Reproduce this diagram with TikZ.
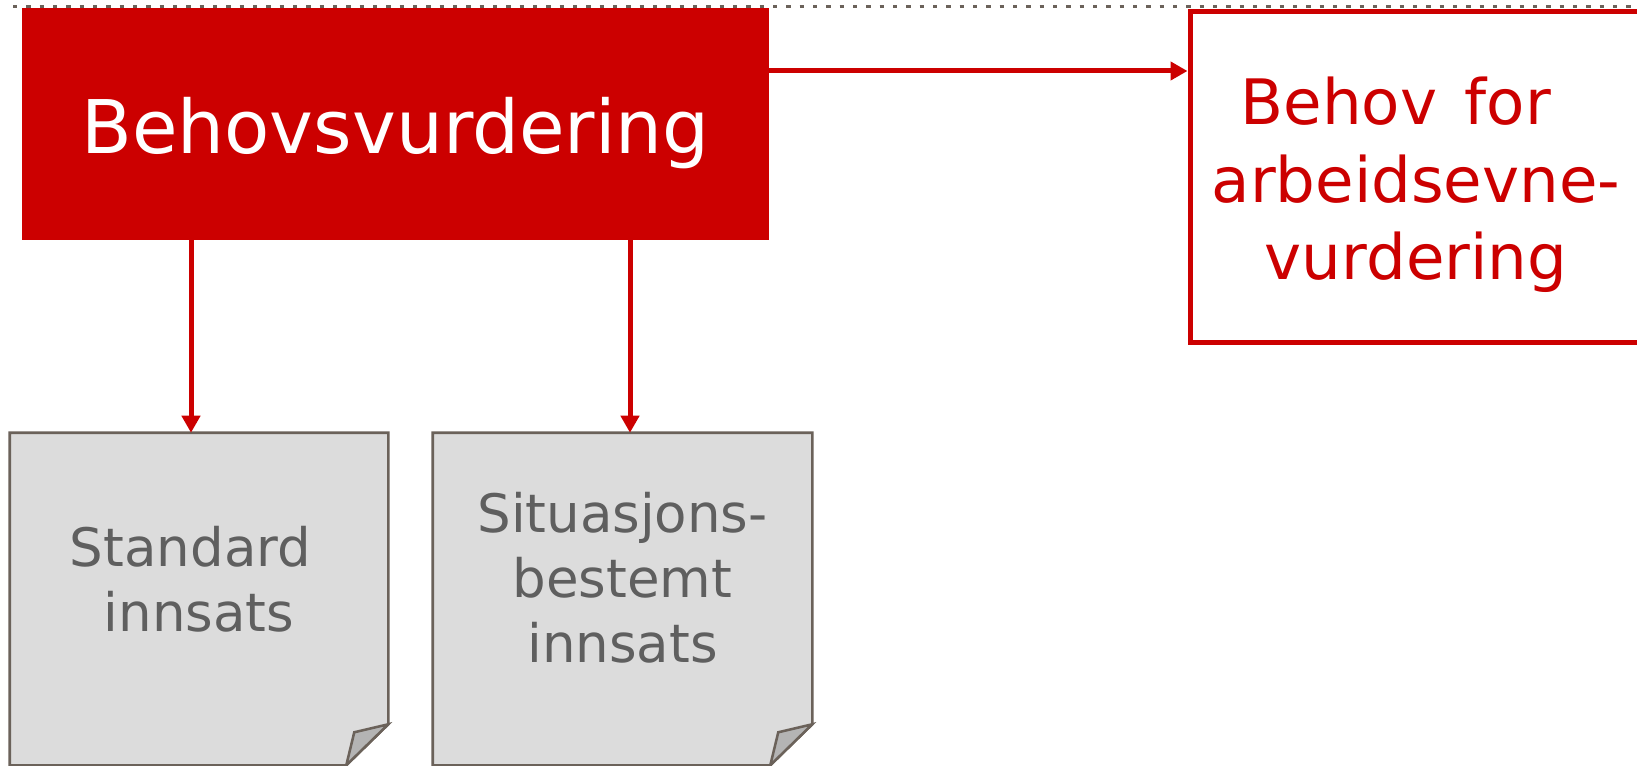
\documentclass[tikz,border=0pt]{standalone}
\usepackage{fontspec}
\setmainfont{DejaVu Sans}
\usetikzlibrary{arrows.meta,calc}
\definecolor{nred}{HTML}{CC0000}
\definecolor{gline}{HTML}{6B625A}
\definecolor{gfill}{HTML}{DCDCDC}
\definecolor{gflap}{HTML}{B4B4B4}
\definecolor{gtext}{HTML}{5F5F5F}
\def\pu{0.75pt}
\begin{document}
\begin{tikzpicture}[x=0.75pt,y=-0.75pt,
  redbox/.style={fill=nred, draw=none, inner sep=0pt},
  outbox/.style={draw=nred, line width=3.75pt, fill=white, inner sep=0pt},
  ghost/.style={draw=none, inner sep=0pt},
  greyline/.style={draw=gline, line width=1.9pt, line join=miter},
  arr/.style={draw=nred, line width=3.75pt, -{Triangle[length=12.75pt,width=13.5pt]}},
  dotline/.style={draw=gline, line width=2.25pt, dash pattern=on 3.2pt off 6.8pt},
  txt/.style={inner sep=0pt, align=center}
]
\useasboundingbox (0,0) rectangle (1637,766);
\clip (0,0) rectangle (1637,766);
\fill[white] (0,0) rectangle (1637,766);

\draw[dotline] (13,6.5) -- (1637,6.5);

\node[redbox, minimum width=747*\pu, minimum height=231.5*\pu] (bv) at (395.5,124.25) {};
\node[txt, text=white, font=\fontsize{55.5}{66}\selectfont] (bvt) at (395.5,133) {Behovsvurdering};

\node[outbox, minimum width=510*\pu, minimum height=331.5*\pu] (rb) at (1445,177.25) {};
\node[txt, text=nred, font=\fontsize{47}{58}\selectfont] (rbt) at (1416,185) {Behov \kern0.12em for\kern0.65em\\arbeidsevne-\\vurdering};

\node[ghost, minimum width=378*\pu, minimum height=332*\pu] (std) at (199,599) {};
\node[ghost, minimum width=379*\pu, minimum height=332*\pu] (sit) at (622.5,599) {};

\foreach \b in {std,sit}{
  \draw[greyline, fill=gfill] (\b.north west) -- (\b.north east) -- ($(\b.south east)+(0,-41)$) -- ($(\b.south east)+(-42,0)$) -- (\b.south west) -- cycle;
  \draw[greyline, fill=gflap] ($(\b.south east)+(0,-41)$) -- ($(\b.south east)+(-34,-33)$) -- ($(\b.south east)+(-42,0)$) -- cycle;
}

\node[txt, text=gtext, font=\fontsize{39.75}{48.75}\selectfont] (stdt) at (199,579) {Standard\kern0.32em\\innsats};
\node[txt, text=gtext, font=\fontsize{39.75}{48.75}\selectfont] (sitt) at (622.5,578) {Situasjons-\\bestemt\\innsats};

\draw[arr] (bv.east |- 0,71) -- (rb.west |- 0,71);
\draw[arr] (bv.south -| 191,0) -- (std.north -| 191,0);
\draw[arr] (bv.south -| 630,0) -- (sit.north -| 630,0);
\end{tikzpicture}
\end{document}
